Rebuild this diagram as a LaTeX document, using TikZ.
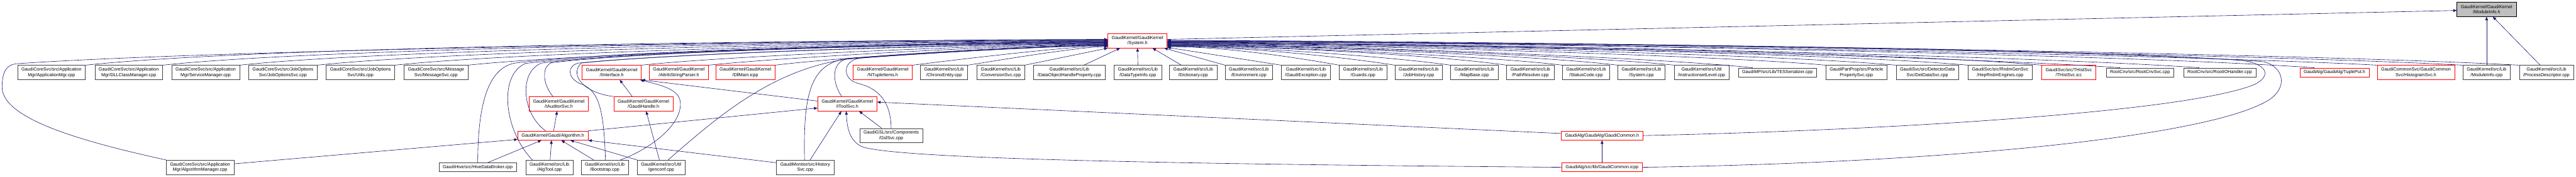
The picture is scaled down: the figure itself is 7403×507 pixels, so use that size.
\documentclass[tikz,border=0pt]{standalone}
\usepackage{fontspec}
\setmainfont{Liberation Sans}
\usetikzlibrary{arrows.meta}
\definecolor{incblue}{HTML}{191970}
\begin{document}
\begin{tikzpicture}[x=1pt,y=1pt,>={Triangle[length=10pt,width=8pt]},
  src/.style={draw=black!75,line width=1.2pt,fill=white,align=center,
    font=\fontsize{13}{15}\selectfont,inner xsep=11pt,inner ysep=0pt,minimum height=41pt},
  hdr/.style={src,draw=red},
  cur/.style={src,draw=black,fill=black!25},
  one/.style={minimum height=26pt},
  inc/.style={draw=incblue,line width=1.1pt,->}]
  \useasboundingbox (0,0) rectangle (7403,507);
  \node[cur] (mi) at (7146,480) {GaudiKernel/GaudiKernel\\/ModuleInfo.h};
  \node[hdr] (sys) at (3269,390) {GaudiKernel/GaudiKernel\\/System.h};
  \node[src] (am) at (148,299) {GaudiCoreSvc/src/Application\\Mgr/ApplicationMgr.cpp};
  \node[src] (dll) at (370,299) {GaudiCoreSvc/src/Application\\Mgr/DLLClassManager.cpp};
  \node[src] (sm) at (591,299) {GaudiCoreSvc/src/Application\\Mgr/ServiceManager.cpp};
  \node[src] (jos) at (813,299) {GaudiCoreSvc/src/JobOptions\\Svc/JobOptionsSvc.cpp};
  \node[src] (jou) at (1036,299) {GaudiCoreSvc/src/JobOptions\\Svc/Utils.cpp};
  \node[src] (msg) at (1253,299) {GaudiCoreSvc/src/Message\\Svc/MessageSvc.cpp};
  \node[hdr] (ii) at (1758,299) {GaudiKernel/GaudiKernel\\/IInterface.h};
  \node[hdr] (asp) at (1951,299) {GaudiKernel/GaudiKernel\\/AttribStringParser.h};
  \node[hdr] (dm) at (2142,299) {GaudiKernel/GaudiKernel\\/DllMain.icpp};
  \node[hdr] (nti) at (2537,299) {GaudiKernel/GaudiKernel\\/NTupleItems.h};
  \node[src] (ce) at (2713,299) {GaudiKernel/src/Lib\\/ChronoEntity.cpp};
  \node[src] (cs) at (2876,299) {GaudiKernel/src/Lib\\/ConversionSvc.cpp};
  \node[src] (doh) at (3073,299) {GaudiKernel/src/Lib\\/DataObjectHandleProperty.cpp};
  \node[src] (dti) at (3270,299) {GaudiKernel/src/Lib\\/DataTypeInfo.cpp};
  \node[src] (dic) at (3429,299) {GaudiKernel/src/Lib\\/Dictionary.cpp};
  \node[src] (env) at (3589,299) {GaudiKernel/src/Lib\\/Environment.cpp};
  \node[src] (gex) at (3753,299) {GaudiKernel/src/Lib\\/GaudiException.cpp};
  \node[src] (grd) at (3917,299) {GaudiKernel/src/Lib\\/Guards.cpp};
  \node[src] (jh) at (4077,299) {GaudiKernel/src/Lib\\/JobHistory.cpp};
  \node[src] (mb) at (4237,299) {GaudiKernel/src/Lib\\/MapBase.cpp};
  \node[src] (pr) at (4398,299) {GaudiKernel/src/Lib\\/PathResolver.cpp};
  \node[src] (sc) at (4558,299) {GaudiKernel/src/Lib\\/StatusCode.cpp};
  \node[src] (sy) at (4717,299) {GaudiKernel/src/Lib\\/System.cpp};
  \node[src] (isl) at (4890,299) {GaudiKernel/src/Util\\/instructionsetLevel.cpp};
  \node[src,one] (tes) at (5108,299) {GaudiMP/src/Lib/TESSerializer.cpp};
  \node[src] (pps) at (5335,299) {GaudiPartProp/src/Particle\\PropertySvc.cpp};
  \node[src] (dds) at (5539,299) {GaudiSvc/src/DetectorData\\Svc/DetDataSvc.cpp};
  \node[src] (hre) at (5748,299) {GaudiSvc/src/RndmGenSvc\\/HepRndmEngines.cpp};
  \node[hdr] (ths) at (5945,299) {GaudiSvc/src/THistSvc\\/THistSvc.icc};
  \node[src,one] (rcs) at (6150,299) {RootCnv/src/RootCnvSvc.cpp};
  \node[src,one] (rio) at (6379,299) {RootCnv/src/RootIOHandler.cpp};
  \node[hdr,one] (tp) at (6709,299) {GaudiAlg/GaudiAlg/TuplePut.h};
  \node[hdr] (hs) at (6943,299) {GaudiCommonSvc/GaudiCommon\\Svc/HistogramSvc.h};
  \node[src] (mic) at (7146,299) {GaudiKernel/src/Lib\\/ModuleInfo.cpp};
  \node[src] (pd) at (7318,299) {GaudiKernel/src/Lib\\/ProcessDescriptor.cpp};
  \node[hdr] (ias) at (1606,209) {GaudiKernel/GaudiKernel\\/IAuditorSvc.h};
  \node[hdr] (gh) at (1849,209) {GaudiKernel/GaudiKernel\\/GaudiHandle.h};
  \node[hdr] (its) at (2435,209) {GaudiKernel/GaudiKernel\\/IToolSvc.h};
  \node[hdr,one] (alg) at (1589,118) {GaudiKernel/Gaudi/Algorithm.h};
  \node[src] (gsl) at (2561,118) {GaudiGSL/src/Components\\/GslSvc.cpp};
  \node[hdr,one] (gch) at (4604,118) {GaudiAlg/GaudiAlg/GaudiCommon.h};
  \node[src] (amg) at (575,27) {GaudiCoreSvc/src/Application\\Mgr/AlgorithmManager.cpp};
  \node[src,one] (hdb) at (1373,27) {GaudiHive/src/HiveDataBroker.cpp};
  \node[src] (agt) at (1579,27) {GaudiKernel/src/Lib\\/AlgTool.cpp};
  \node[src] (bs) at (1738,27) {GaudiKernel/src/Lib\\/Bootstrap.cpp};
  \node[src] (gc) at (1900,27) {GaudiKernel/src/Util\\/genconf.cpp};
  \node[src] (hsv) at (2314,27) {GaudiMonitor/src/History\\Svc.cpp};
  \node[hdr,one] (gci) at (4604,27) {GaudiAlg/src/lib/GaudiCommon.icpp};
  \draw[inc] ([yshift=4pt]sys.east) -- ([yshift=-3pt]mi.west);
  \draw[inc] (mic.north) -- (mi.south);
  \draw[inc] ([xshift=-18pt]pd.north) -- ([xshift=18pt]mi.south);
  \draw[inc] (amg.north west) .. controls (240,100) and (6,165) .. (6,257) .. controls (6,300) and (18,320) .. (45,324) .. controls +(4:615) and +(180:615) .. ([yshift=4pt]sys.west);
  \draw[inc] (am.north east) .. controls +(6:575) and +(180:575) .. ([yshift=3pt]sys.west);
  \draw[inc] (dll.north east) .. controls +(6:530) and +(180:530) .. ([yshift=2pt]sys.west);
  \draw[inc] (sm.north east) .. controls +(6:490) and +(180:490) .. ([yshift=1pt]sys.west);
  \draw[inc] (jos.north east) .. controls +(6:445) and +(180:445) .. (sys.west);
  \draw[inc] (jou.north east) .. controls +(6:400) and +(180:400) .. ([yshift=-1pt]sys.west);
  \draw[inc] (msg.north east) .. controls +(6:360) and +(180:360) .. ([yshift=-2pt]sys.west);
  \draw[inc] (hdb.north) .. controls (1373,200) and (1400,312) .. (1480,326) .. controls +(7:335) and +(180:335) .. ([yshift=-3pt]sys.west);
  \draw[inc] ([xshift=-49pt]agt.north) .. controls (1450,130) and (1430,290) .. (1510,325) .. controls +(7:330) and +(180:330) .. ([yshift=-4pt]sys.west);
  \draw[inc] ([xshift=-21pt]alg.north) .. controls (1500,180) and (1490,300) .. (1556,326) .. controls +(7:320) and +(180:320) .. ([yshift=-5pt]sys.west);
  \draw[inc] ([xshift=-17pt]ias.north) .. controls (1560,265) and (1555,315) .. (1585,327) .. controls +(7:315) and +(180:315) .. ([yshift=-6pt]sys.west);
  \draw[inc] ([xshift=2pt]bs.north) .. controls (1735,200) and (1720,250) .. (1665,268) .. controls (1630,285) and (1630,318) .. (1662,326) .. controls +(6:300) and +(180:300) .. ([yshift=-7pt]sys.west);
  \draw[inc] (gh.north west) .. controls (1680,240) and (1635,290) .. (1670,326) .. controls +(6:295) and +(180:295) .. ([yshift=-8pt]sys.west);
  \draw[inc] (ii.north east) .. controls +(6:265) and +(180:265) .. ([yshift=-9pt]sys.west);
  \draw[inc] (asp.north east) .. controls +(6:225) and +(180:225) .. ([yshift=-10pt]sys.west);
  \draw[inc] (dm.north east) .. controls +(7:190) and +(180:190) .. ([yshift=-11pt]sys.west);
  \draw[inc] ([xshift=20pt]gc.north) .. controls (2060,170) and (2220,310) .. (2440,338) .. controls +(5:145) and +(180:145) .. ([yshift=-12pt]sys.west);
  \draw[inc] ([xshift=-2pt]hsv.north) .. controls (2308,240) and (2330,325) .. (2435,339) .. controls +(5:147) and +(180:147) .. ([yshift=-13pt]sys.west);
  \draw[inc] ([xshift=-16pt]its.north) .. controls (2395,265) and (2385,322) .. (2430,337) .. controls +(5:148) and +(180:148) .. ([yshift=-13pt]sys.west);
  \draw[inc] (gsl.north) .. controls (2560,220) and (2520,255) .. (2465,268) .. controls (2420,280) and (2420,332) .. (2470,340) .. controls +(5:140) and +(180:140) .. ([yshift=-14pt]sys.west);
  \draw[inc] (nti.north east) .. controls +(7:110) and +(180:110) .. ([yshift=-15pt]sys.west);
  \draw[inc] (ce.north east) .. controls +(9:80) and +(180:80) .. ([yshift=-17pt]sys.west);
  \draw[inc] (cs.north east) -- (sys.south west);
  \draw[inc] ([xshift=42pt]doh.north) -- ([xshift=-50pt]sys.south);
  \draw[inc] (dti.north) -- (sys.south);
  \draw[inc] ([xshift=-34pt]dic.north) -- ([xshift=43pt]sys.south);
  \draw[inc] (env.north west) -- ([xshift=-9pt]sys.south east);
  \draw[inc] (gex.north west) -- ([yshift=2pt]sys.south east);
  \draw[inc] (grd.north west) .. controls +(170:155) and +(0:155) .. ([yshift=-17pt]sys.east);
  \draw[inc] (jh.north west) .. controls +(171:180) and +(0:180) .. ([yshift=-16pt]sys.east);
  \draw[inc] (mb.north west) .. controls +(172:192) and +(0:192) .. ([yshift=-15pt]sys.east);
  \draw[inc] (pr.north west) .. controls +(172:230) and +(0:230) .. ([yshift=-14pt]sys.east);
  \draw[inc] (sc.north west) .. controls +(173:223) and +(0:223) .. ([yshift=-13pt]sys.east);
  \draw[inc] (sy.north west) .. controls +(173:254) and +(0:254) .. ([yshift=-12pt]sys.east);
  \draw[inc] (isl.north west) .. controls +(174:285) and +(0:285) .. ([yshift=-11pt]sys.east);
  \draw[inc] ([xshift=-71pt]tes.north) .. controls +(174:330) and +(0:330) .. ([yshift=-10pt]sys.east);
  \draw[inc] (pps.north west) .. controls +(175:371) and +(0:371) .. ([yshift=-9pt]sys.east);
  \draw[inc] (dds.north west) .. controls +(175:410) and +(0:410) .. ([yshift=-8pt]sys.east);
  \draw[inc] (hre.north west) .. controls +(175:451) and +(0:451) .. ([yshift=-7pt]sys.east);
  \draw[inc] (ths.north west) .. controls +(175:492) and +(0:492) .. ([yshift=-6pt]sys.east);
  \draw[inc] ([xshift=-57pt]rcs.north) .. controls +(176:537) and +(0:537) .. ([yshift=-5pt]sys.east);
  \draw[inc] ([xshift=-59pt]rio.north) .. controls +(176:582) and +(0:582) .. ([yshift=-4pt]sys.east);
  \draw[inc] (gch.east) .. controls (5500,135) and (6300,190) .. (6480,265) .. controls (6530,290) and (6515,325) .. (6440,334) .. controls +(176:605) and +(0:605) .. ([yshift=-3pt]sys.east);
  \draw[inc] (gci.east) .. controls (5600,40) and (6350,115) .. (6520,220) .. controls (6575,255) and (6565,315) .. (6505,330) .. controls +(176:618) and +(0:618) .. ([yshift=-3pt]sys.east);
  \draw[inc] ([xshift=-58pt]tp.north) .. controls +(176:646) and +(0:646) .. ([yshift=-2pt]sys.east);
  \draw[inc] (hs.north west) .. controls +(177:682) and +(0:682) .. ([yshift=-1pt]sys.east);
  \draw[inc] (mic.north west) .. controls +(177:730) and +(0:730) .. (sys.east);
  \draw[inc] (pd.north west) .. controls +(177:761) and +(0:761) .. ([yshift=1pt]sys.east);
  \draw[inc] ([yshift=10pt]amg.east) -- ([yshift=-11pt]alg.west);
  \draw[inc] ([xshift=29pt]hdb.north) -- ([xshift=-33pt]alg.south);
  \draw[inc] ([xshift=2pt]agt.north) -- ([xshift=-4pt]alg.south);
  \draw[inc] ([xshift=-32pt]bs.north) -- ([xshift=24pt]alg.south);
  \draw[inc] (gc.north west) -- ([xshift=50pt]alg.south);
  \draw[inc] ([yshift=-8pt]hsv.north west) -- (alg.south east);
  \draw[inc] ([xshift=2pt]alg.north) -- ([xshift=-5pt]ias.south);
  \draw[inc] (alg.north east) -- ([yshift=-12pt]its.west);
  \draw[inc] ([xshift=-5pt]gc.north) -- ([xshift=8pt]gh.south);
  \draw[inc] ([xshift=-32pt]gh.north) -- ([xshift=23pt]ii.south);
  \draw[inc] ([yshift=8pt]its.west) -- (ii.south east);
  \draw[inc] ([xshift=45pt]bs.north) .. controls (1870,80) and (1962,150) .. (1955,215) .. controls (1950,252) and (1900,262) .. ([xshift=-4pt]ii.south east);
  \draw[inc] ([xshift=14pt]hsv.north) -- ([xshift=-17pt]its.south);
  \draw[inc] ([xshift=-27pt]gsl.north) -- ([xshift=34pt]its.south);
  \draw[inc] ([yshift=6pt]gch.west) -- ([yshift=5pt]its.east);
  \draw[inc] (gci.west) .. controls (3400,36) and (2600,50) .. (2480,85) .. controls (2442,100) and (2434,140) .. ([xshift=-3pt]its.south);
  \draw[inc] (gci.north) -- (gch.south);
\end{tikzpicture}
\end{document}
